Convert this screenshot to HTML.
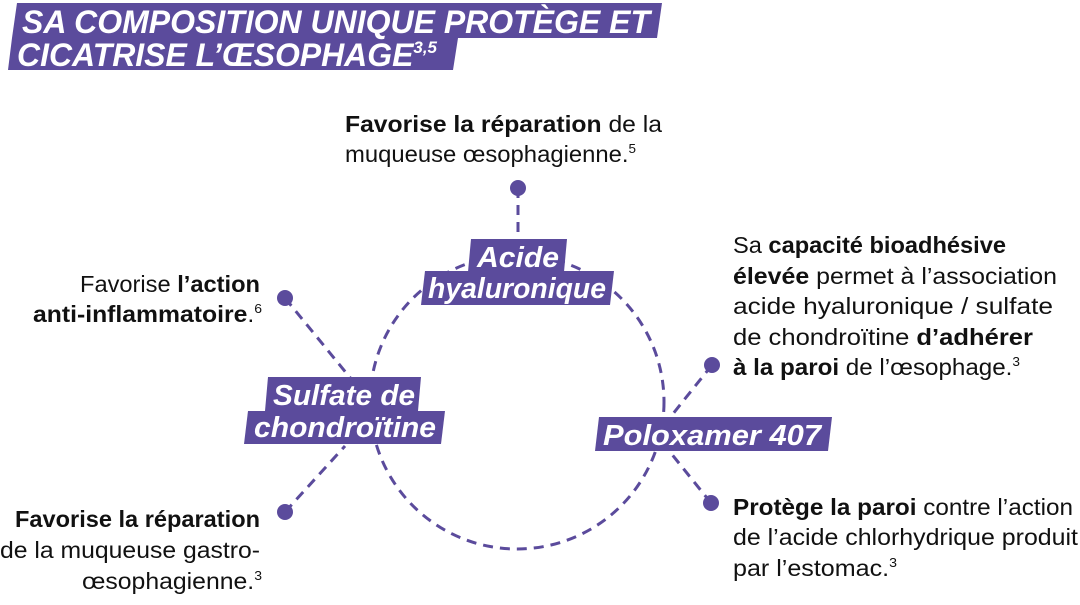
<!DOCTYPE html>
<html><head><meta charset="utf-8"><style>
html,body{margin:0;padding:0;background:#fff;}
svg{display:block;}
.t{font-family:"Liberation Sans",sans-serif;font-size:23px;fill:#111;}
.b{font-weight:bold;}
.l{font-family:"Liberation Sans",sans-serif;font-size:29px;font-weight:bold;font-style:italic;fill:#fff;}
.h{font-family:"Liberation Sans",sans-serif;font-size:32px;font-weight:bold;font-style:italic;fill:#fff;}
</style></head><body>
<svg width="1080" height="605" viewBox="0 0 1080 605" xmlns="http://www.w3.org/2000/svg">
<g fill="#5b4b9c">
<polygon points="17,3 662,3 657,38 12,38"/>
<polygon points="12,38 458,38 453,70 8,70"/>
</g>
<text class="h" x="22" y="33" textLength="628" lengthAdjust="spacingAndGlyphs">SA COMPOSITION UNIQUE PROTÈGE ET</text>
<text class="h" x="17" y="66" textLength="420" lengthAdjust="spacingAndGlyphs">CICATRISE L’ŒSOPHAGE<tspan font-size="17" dy="-13">3,5</tspan></text>

<g stroke="#5b4b9c" stroke-width="3" stroke-dasharray="10 7" fill="none">
<circle cx="517" cy="402" r="147"/>
<line x1="518" y1="188" x2="518" y2="240"/>
<line x1="285" y1="298" x2="352" y2="380"/>
<line x1="285" y1="512" x2="345" y2="446"/>
<line x1="712" y1="365" x2="668" y2="420"/>
<line x1="711" y1="503" x2="670" y2="452"/>
</g>
<g fill="#5b4b9c">
<circle cx="518" cy="188" r="8"/>
<circle cx="285" cy="298" r="8"/>
<circle cx="285" cy="512" r="8"/>
<circle cx="712" cy="365" r="8"/>
<circle cx="711" cy="503" r="8"/>
<polygon points="471,239 567,239 564,272 468,272"/>
<polygon points="425,271 614,271 610,305 421,305"/>
<polygon points="268,377 421,377 418,411 265,411"/>
<polygon points="248,411 445,411 441,444 244,444"/>
<polygon points="599,417 832,417 828,451 595,451"/>
</g>
<text class="l" x="477" y="267" textLength="82" lengthAdjust="spacingAndGlyphs">Acide</text>
<text class="l" x="428" y="298" textLength="178" lengthAdjust="spacingAndGlyphs">hyaluronique</text>
<text class="l" x="273" y="405" textLength="142" lengthAdjust="spacingAndGlyphs">Sulfate de</text>
<text class="l" x="254" y="437" textLength="182" lengthAdjust="spacingAndGlyphs">chondroïtine</text>
<text class="l" x="603" y="445" textLength="218" lengthAdjust="spacingAndGlyphs">Poloxamer 407</text>

<text class="t" x="345" y="132" textLength="317" lengthAdjust="spacingAndGlyphs"><tspan class="b">Favorise la réparation</tspan> de la</text>
<text class="t" x="345" y="162" textLength="291" lengthAdjust="spacingAndGlyphs">muqueuse œsophagienne.<tspan font-size="13" dy="-9">5</tspan></text>

<text class="t" x="80" y="292" textLength="180" lengthAdjust="spacingAndGlyphs">Favorise <tspan class="b">l’action</tspan></text>
<text class="t" x="33" y="322" textLength="229" lengthAdjust="spacingAndGlyphs"><tspan class="b">anti-inflammatoire</tspan>.<tspan font-size="13" dy="-9">6</tspan></text>

<text class="t" x="15" y="527" textLength="245" lengthAdjust="spacingAndGlyphs"><tspan class="b">Favorise la réparation</tspan></text>
<text class="t" x="0" y="558" textLength="260" lengthAdjust="spacingAndGlyphs">de la muqueuse gastro-</text>
<text class="t" x="82" y="589" textLength="180" lengthAdjust="spacingAndGlyphs">œsophagienne.<tspan font-size="13" dy="-9">3</tspan></text>

<text class="t" x="733" y="253" textLength="273" lengthAdjust="spacingAndGlyphs">Sa <tspan class="b">capacité bioadhésive</tspan></text>
<text class="t" x="733" y="284" textLength="324" lengthAdjust="spacingAndGlyphs"><tspan class="b">élevée</tspan> permet à l’association</text>
<text class="t" x="733" y="314" textLength="320" lengthAdjust="spacingAndGlyphs">acide hyaluronique / sulfate</text>
<text class="t" x="733" y="345" textLength="300" lengthAdjust="spacingAndGlyphs">de chondroïtine <tspan class="b">d’adhérer</tspan></text>
<text class="t" x="733" y="375" textLength="287" lengthAdjust="spacingAndGlyphs"><tspan class="b">à la paroi</tspan> de l’œsophage.<tspan font-size="13" dy="-9">3</tspan></text>

<text class="t" x="733" y="515" textLength="340" lengthAdjust="spacingAndGlyphs"><tspan class="b">Protège la paroi</tspan> contre l’action</text>
<text class="t" x="733" y="545" textLength="345" lengthAdjust="spacingAndGlyphs">de l’acide chlorhydrique produit</text>
<text class="t" x="733" y="576" textLength="164" lengthAdjust="spacingAndGlyphs">par l’estomac.<tspan font-size="13" dy="-9">3</tspan></text>
</svg>
</body></html>
